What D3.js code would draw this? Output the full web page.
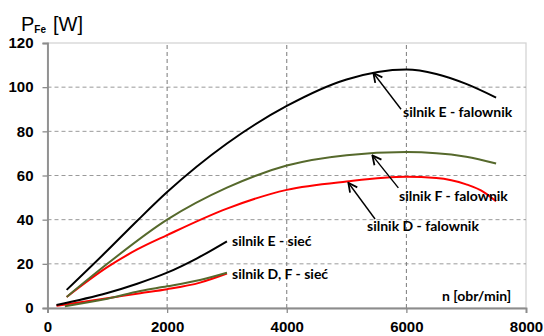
<!DOCTYPE html>
<html>
<head>
<meta charset="utf-8">
<script src="https://cdn.jsdelivr.net/npm/d3@7"></script>
<style>
body { margin:0; background:#fff; }
text { font-family: "Liberation Sans", Arial, sans-serif; }
.lbl { font-family: Lato, "Liberation Sans", sans-serif; font-weight:bold; font-size:14px; }
</style>
</head>
<body>
<svg width="544" height="336"></svg>
<script>
const width = 544
const height = 336

// speed [obr/min] and iron losses [W]
const eFalN = [320, 1000, 1500, 2000, 3000, 4000, 5000, 6000, 6500, 7000, 7500]
const eFalP = [8.2, 26, 39.5, 52.5, 74.5, 91.5, 103.5, 108, 106, 101.5, 95.3]

const fFalN = [320, 1000, 2000, 3000, 4000, 5000, 6000, 7000, 7500]
const fFalP = [5, 20, 40, 54.5, 64.5, 69.2, 70.6, 68.5, 65.4]

const dFalN = [320, 1000, 1500, 2000, 3000, 4000, 5000, 6000, 6500, 7000, 7300, 7500]
const dFalP = [5, 18.5, 26.5, 33, 45, 53.5, 57.3, 59.4, 58.9, 56, 52.4, 48.3]

const eSiecN = [150, 1000, 1500, 2000, 2500, 3000]
const eSiecP = [1.4, 6.8, 11, 16, 22.5, 30.2]

const fSiecN = [290, 1000, 1550, 2000, 2550, 3000]
const fSiecP = [0.8, 4.2, 7.7, 9.8, 12.7, 16]

const dSiecN = [150, 1000, 1550, 2000, 2550, 3000]
const dSiecP = [1.0, 4.4, 6.7, 8.5, 11.5, 15.6]

const xTicks = [0, 2000, 4000, 6000, 8000]
const yTicks = [0, 20, 40, 60, 80, 100, 120]

var svg = d3.select("svg")

var x = d3.scaleLinear().domain([0, 8000]).range([47.5, 526])
var y = d3.scaleLinear().domain([0, 120]).range([308, 43])

// plot area border
svg.append("rect")
  .attr("x", x(0)).attr("y", y(120))
  .attr("width", x(8000) - x(0)).attr("height", y(0) - y(120))
  .style("fill", "none").style("stroke", "#d4d4d4").style("stroke-width", 1.3)

// grid
svg.selectAll("line.hgrid")
  .data(yTicks.filter(d => d > 0 && d < 120))
  .enter().append("line")
  .attr("class", "hgrid")
  .attr("x1", x(0)).attr("x2", x(8000))
  .attr("y1", d => y(d)).attr("y2", d => y(d))
  .style("stroke", "#9a9a9a").style("stroke-dasharray", "4,3").style("stroke-width", 1)

svg.selectAll("line.vgrid")
  .data(xTicks.filter(d => d > 0 && d < 8000))
  .enter().append("line")
  .attr("class", "vgrid")
  .attr("y1", y(0)).attr("y2", y(120))
  .attr("x1", d => x(d)).attr("x2", d => x(d))
  .style("stroke", "#7a7a7a").style("stroke-dasharray", "4,3").style("stroke-width", 1)

// axes
let yAxis = svg.append("g")
  .attr("transform", "translate(" + x(0) + ",0)")
  .call(d3.axisLeft(y).tickValues(yTicks).tickSize(5).tickPadding(9))
let xAxis = svg.append("g")
  .attr("transform", "translate(0," + y(0) + ")")
  .call(d3.axisBottom(x).tickValues(xTicks).tickSize(5).tickPadding(8).tickFormat(d3.format("d")))

;[yAxis, xAxis].forEach(function(g) {
  g.select(".domain").style("stroke", "#8c8c8c").style("stroke-width", 1.8)
  g.selectAll(".tick line").style("stroke", "#8c8c8c").style("stroke-width", 1.3)
  g.selectAll(".tick text")
    .style("font-family", "'Liberation Sans', Arial, sans-serif")
    .style("font-weight", "bold").style("font-size", "15px").style("fill", "#000")
})

// curves
let line = d3.line()
  .curve(d3.curveMonotoneX)
  .x(d => x(d[0]))
  .y(d => y(d[1]))

let series = [
  { n: dSiecN, p: dSiecP, color: "#ff0000" },
  { n: fSiecN, p: fSiecP, color: "#56692c" },
  { n: eSiecN, p: eSiecP, color: "#000000" },
  { n: dFalN, p: dFalP, color: "#ff0000" },
  { n: fFalN, p: fFalP, color: "#56692c" },
  { n: eFalN, p: eFalP, color: "#000000" }
]

svg.selectAll("path.curve")
  .data(series)
  .enter().append("path")
  .attr("class", "curve")
  .attr("d", s => line(s.n.map((v, i) => [v, s.p[i]])))
  .style("fill", "none")
  .style("stroke", s => s.color)
  .style("stroke-width", 2)

// arrows: head [n, P] on the curve, tail [n, P] near the text
svg.append("defs").append("marker")
  .attr("id", "arr")
  .attr("viewBox", "0 0 10 10")
  .attr("refX", 9).attr("refY", 5)
  .attr("markerWidth", 8).attr("markerHeight", 8)
  .attr("orient", "auto")
  .append("path")
  .attr("d", "M1,1 L9,5 L1,9")
  .style("fill", "none").style("stroke", "#000").style("stroke-width", 1.6)

let arrows = [
  { tail: [5911, 90], head: [5448, 106.4] },
  { tail: [5866, 54.4], head: [5431, 69.1] },
  { tail: [5476, 40.3], head: [5030, 56.7] }
]

svg.selectAll("line.arrow")
  .data(arrows)
  .enter().append("line")
  .attr("class", "arrow")
  .attr("x1", d => x(d.tail[0])).attr("y1", d => y(d.tail[1]))
  .attr("x2", d => x(d.head[0])).attr("y2", d => y(d.head[1]))
  .style("stroke", "#000").style("stroke-width", 1.4)
  .attr("marker-end", "url(#arr)")

// labels
let labels = [
  { t: "silnik E - falownik", x: 403, y: 117 },
  { t: "silnik F - falownik", x: 399, y: 201 },
  { t: "silnik D - falownik", x: 367, y: 231 },
  { t: "silnik E - sieć", x: 232, y: 246 },
  { t: "silnik D, F - sieć", x: 232, y: 279 },
  { t: "n [obr/min]", x: 442, y: 301 }
]

svg.selectAll("text.lbl")
  .data(labels)
  .enter().append("text")
  .attr("class", "lbl")
  .attr("x", d => d.x).attr("y", d => d.y)
  .text(d => d.t)

// y title
let title = svg.append("text")
  .attr("x", 21).attr("y", 31)
  .style("font-size", "20px")
title.append("tspan").text("P")
title.append("tspan").attr("dy", 2).style("font-size", "10px").style("font-weight", "bold").text("Fe")
title.append("tspan").attr("dy", -2).attr("dx", 7).text("[W]")
</script>
</body>
</html>
